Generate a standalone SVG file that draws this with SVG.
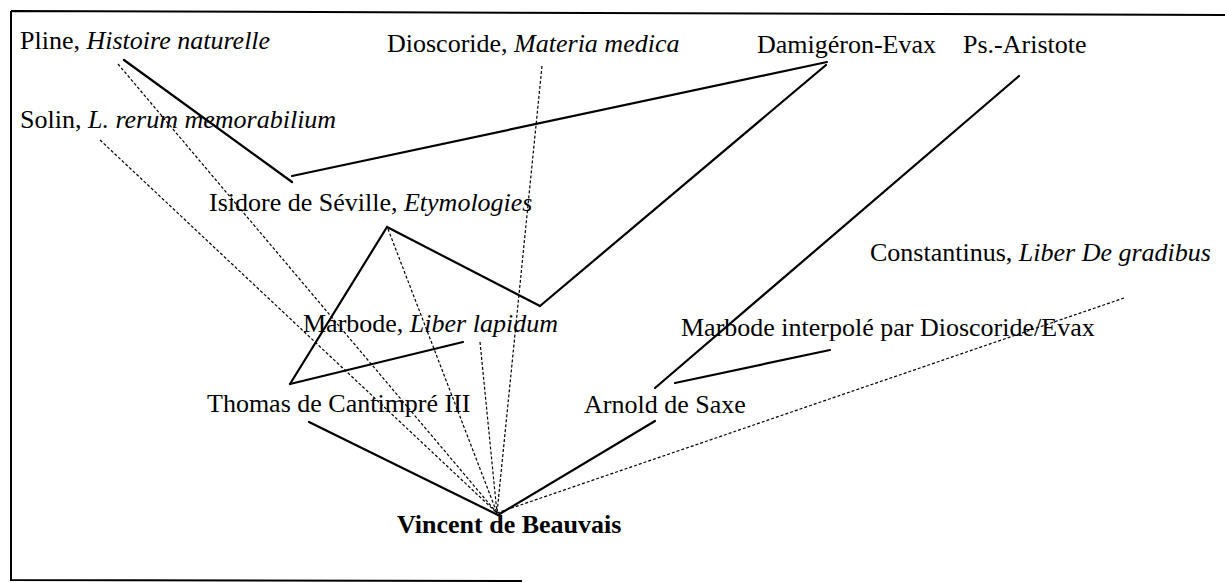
<svg xmlns="http://www.w3.org/2000/svg" width="1225" height="582" viewBox="0 0 1225 582">
<style>
text{font-family:"Liberation Serif","Times New Roman",serif;font-size:26px;fill:#000}
.i{font-style:italic}
.b{font-weight:bold}
.s{stroke:#000;stroke-width:2.2;fill:none;stroke-linecap:round}
.d{stroke:#000;stroke-width:1.2;fill:none;stroke-dasharray:3 2}
.f{stroke:#000;stroke-width:2;fill:none}
</style>
<rect width="1225" height="582" fill="#fff"/>
<g id="frame">
<path class="f" d="M11,11 L1225,15 M11,11 L11,580 L522,581"/>
</g>
<g id="connectors">
<line class="s" x1="124" y1="60" x2="292" y2="182"/>
<line class="s" x1="292" y1="176" x2="827" y2="62"/>
<line class="s" x1="826" y1="65" x2="540" y2="306"/>
<line class="s" x1="387" y1="227" x2="540" y2="306"/>
<line class="s" x1="387" y1="227" x2="290" y2="384"/>
<line class="s" x1="290" y1="384" x2="463" y2="342"/>
<line class="s" x1="1019" y1="76" x2="655" y2="388"/>
<line class="s" x1="675" y1="383" x2="830" y2="350"/>
<line class="s" x1="309" y1="422" x2="498" y2="515"/>
<line class="s" x1="655" y1="421" x2="498" y2="515"/>
<line class="d" x1="118" y1="64" x2="497" y2="513"/>
<line class="d" x1="100" y1="140" x2="497" y2="513"/>
<line class="d" x1="542" y1="66" x2="497" y2="513"/>
<line class="d" x1="388" y1="229" x2="497" y2="513"/>
<line class="d" x1="480" y1="342" x2="497" y2="513"/>
<line class="d" x1="1124" y1="298" x2="497" y2="513"/>
</g>
<g id="pline"><text x="20" y="49">Pline, <tspan class="i">Histoire naturelle</tspan></text></g>
<g id="dioscoride"><text x="387" y="52">Dioscoride, <tspan class="i">Materia medica</tspan></text></g>
<g id="damigeron"><text x="757" y="53">Damigéron-Evax</text></g>
<g id="psaristote"><text x="963" y="53">Ps.-Aristote</text></g>
<g id="solin"><text x="20" y="128">Solin, <tspan class="i">L. rerum memorabilium</tspan></text></g>
<g id="isidore"><text x="209" y="211">Isidore de Séville, <tspan class="i">Etymologies</tspan></text></g>
<g id="constantinus"><text x="870" y="261">Constantinus, <tspan class="i">Liber De gradibus</tspan></text></g>
<g id="marbode"><text x="303" y="332">Marbode, <tspan class="i">Liber lapidum</tspan></text></g>
<g id="marbode-interpole"><text x="681" y="336">Marbode interpolé par Dioscoride/Evax</text></g>
<g id="thomas"><text x="207" y="412">Thomas de Cantimpré III</text></g>
<g id="arnold"><text x="584" y="413">Arnold de Saxe</text></g>
<g id="vincent"><text class="b" x="397" y="533">Vincent de Beauvais</text></g>
</svg>
